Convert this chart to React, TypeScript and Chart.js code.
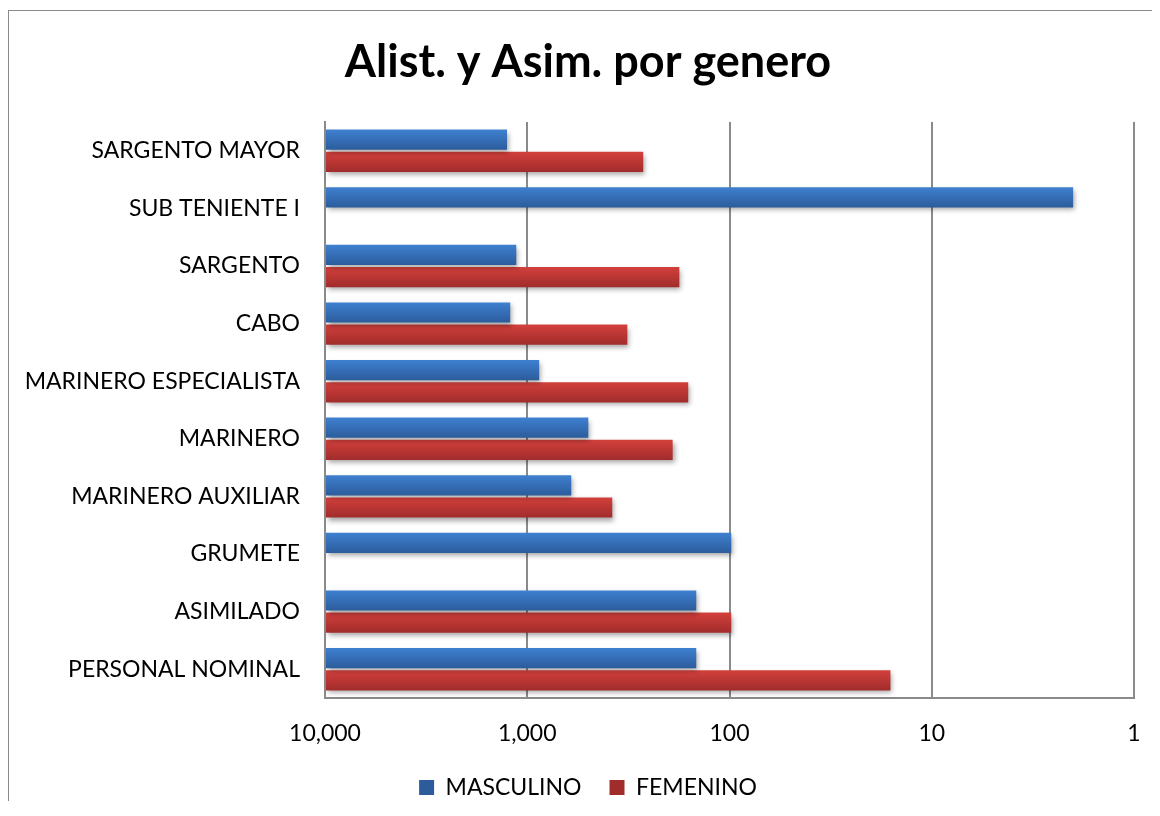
import React, { useEffect, useRef } from "react";
import { Chart, registerables } from "chart.js";

Chart.register(...registerables);

const TITLE = "Alist. y Asim. por genero";
const categories = [
  "SARGENTO MAYOR",
  "SUB TENIENTE I",
  "SARGENTO",
  "CABO",
  "MARINERO ESPECIALISTA",
  "MARINERO",
  "MARINERO AUXILIAR",
  "GRUMETE",
  "ASIMILADO",
  "PERSONAL NOMINAL",
];
const masculino = [1259, 2, 1133, 1214, 873, 499, 606, 98, 146, 146];
const femenino = [267, null, 177, 320, 160, 191, 380, null, 98, 16];
const tickValues = [1, 10, 100, 1000, 10000];

const FONT = "Lato, 'Open Sans', sans-serif";
const CAT_PCT = 0.77;
const BAR_PCT = 0.91;

function gradientFill(light: string, dark: string, flat: string) {
  return (c: any) => {
    const chart = c.chart;
    const y = chart.scales && chart.scales.y;
    if (!y || c.dataIndex === undefined || !chart.chartArea) return flat;
    const center = y.getPixelForValue(c.dataIndex);
    const band = y.height / categories.length;
    const slot = (band * CAT_PCT) / 2;
    const half = (slot * BAR_PCT) / 2;
    const sc = center + (c.datasetIndex === 0 ? -slot / 2 : slot / 2);
    const g = chart.ctx.createLinearGradient(0, sc - half, 0, sc + half);
    g.addColorStop(0, light);
    g.addColorStop(1, dark);
    return g;
  };
}

const shadowPlugin = {
  id: "barShadow",
  afterLayout(chart: any) {
    // let the long category labels extend left of the padded area without clipping
    if (chart.scales.y) chart.scales.y.left = 0;
  },
  beforeDatasetsDraw(chart: any) {
    const ctx = chart.ctx;
    ctx.save();
    ctx.shadowColor = "rgba(0,0,0,0.35)";
    ctx.shadowBlur = 5;
    ctx.shadowOffsetX = 2;
    ctx.shadowOffsetY = 3;
  },
  afterDatasetsDraw(chart: any) {
    chart.ctx.restore();
  },
};

export default function App() {
  const ref = useRef<HTMLCanvasElement | null>(null);

  useEffect(() => {
    if (!ref.current) return;
    const chart = new Chart(ref.current, {
      type: "bar",
      data: {
        labels: categories,
        datasets: [
          {
            label: "MASCULINO",
            data: masculino,
            base: 10000,
            backgroundColor: gradientFill("#3e80d0", "#2c5c9c", "#3872bd"),
            borderWidth: 0,
            categoryPercentage: CAT_PCT,
            barPercentage: BAR_PCT,
          } as any,
          {
            label: "FEMENINO",
            data: femenino,
            base: 10000,
            backgroundColor: gradientFill("#d3403c", "#a02c2b", "#c0393a"),
            borderWidth: 0,
            categoryPercentage: CAT_PCT,
            barPercentage: BAR_PCT,
          } as any,
        ],
      },
      options: {
        animation: false,
        responsive: false,
        indexAxis: "y",
        layout: { padding: { left: 33, right: 24, top: 0, bottom: -8 } },
        plugins: {
          title: {
            display: true,
            text: TITLE,
            color: "#000",
            font: { family: FONT, size: 45, weight: "bold", lineHeight: 1.2 },
            padding: { top: 24, bottom: 33 },
          },
          legend: {
            position: "bottom",
            labels: {
              color: "#000",
              font: { family: FONT, size: 23 },
              boxWidth: 15,
              boxHeight: 15,
              padding: 28,
            },
          },
          tooltip: { enabled: false },
        },
        scales: {
          x: {
            type: "logarithmic",
            reverse: true,
            min: 1,
            max: 10000,
            afterBuildTicks: (scale: any) => {
              scale.ticks = tickValues.map((v) => ({ value: v, major: true }));
            },
            afterFit: (scale: any) => {
              scale.height = 50;
            },
            ticks: {
              color: "#000",
              font: { family: FONT, size: 23 },
              padding: 22,
              maxRotation: 0,
              autoSkip: false,
              callback: (v: any) => Number(v).toLocaleString("en-US"),
            },
            grid: { color: "#8a8a8a", lineWidth: 2, drawTicks: false },
            border: { color: "#8a8a8a", width: 2 },
          },
          y: {
            afterFit: (scale: any) => {
              scale.width = 283;
            },
            ticks: {
              color: "#000",
              font: { family: FONT, size: 23 },
              padding: 25,
              autoSkip: false,
            },
            grid: { display: false, drawTicks: false },
            border: { color: "#8a8a8a", width: 2 },
          },
        },
      } as any,
      plugins: [shadowPlugin],
    });
    return () => chart.destroy();
  }, []);

  return (
    <div
      style={{
        marginTop: 2,
        width: 1149,
        height: 790,
        borderTop: "1px solid #8a8a8a",
        borderLeft: "1px solid #8a8a8a",
        borderRight: "1px solid #8a8a8a",
        background: "#fff",
      }}
    >
      <canvas ref={ref} width={1149} height={790} style={{ display: "block" }} />
    </div>
  );
}
